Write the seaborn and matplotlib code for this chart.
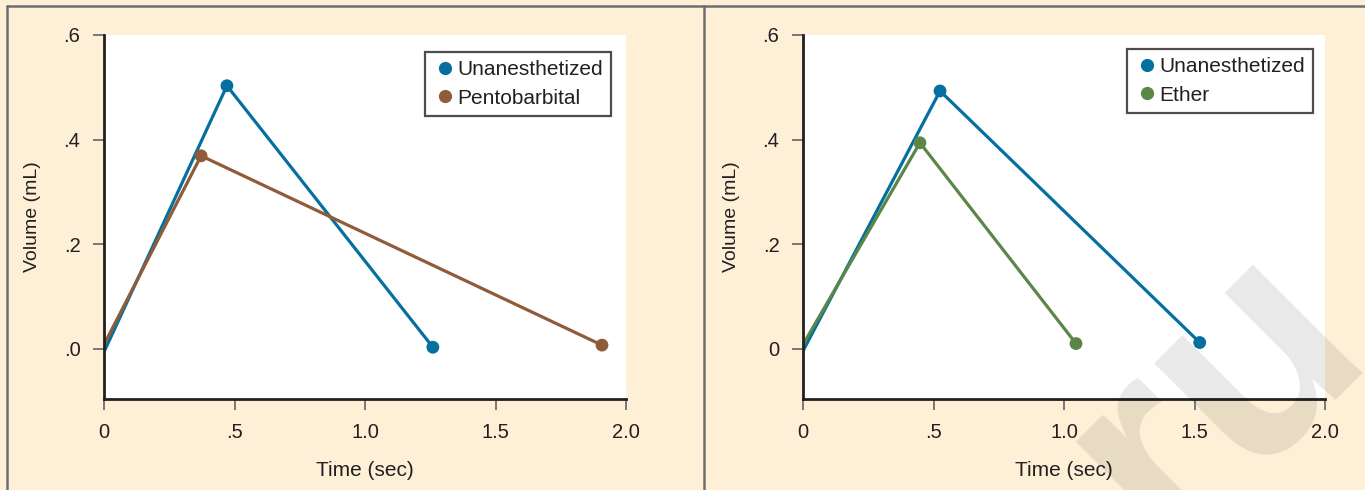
import matplotlib
matplotlib.use("Agg")
import matplotlib.pyplot as plt
import seaborn as sns
import pandas as pd
from matplotlib.lines import Line2D

# data
time_unan_a = [0.0, 0.471, 1.26]
vol_unan_a = [-0.006, 0.503, 0.003]
time_pento = [0.0, 0.372, 1.908]
vol_pento = [0.008, 0.369, 0.007]

time_unan_b = [0.0, 0.525, 1.52]
vol_unan_b = [-0.004, 0.493, 0.012]
time_ether = [0.0, 0.448, 1.046]
vol_ether = [0.008, 0.394, 0.010]

xticks = [0, 0.5, 1.0, 1.5, 2.0]
xtick_labels = ["0", ".5", "1.0", "1.5", "2.0"]
yticks = [0, 0.2, 0.4, 0.6]
ytick_labels_a = [".0", ".2", ".4", ".6"]
ytick_labels_b = ["0", ".2", ".4", ".6"]

BLUE = "#05709f"
BROWN = "#8f5b38"
GREEN = "#5a8748"
CREAM = "#fdf0d7"
DARK = "#231f20"
GREY = "#6d6e71"

sns.set_style("white")
plt.rcParams['font.family'] = ['Liberation Sans', 'DejaVu Sans']

fig = plt.figure(figsize=(13.65, 4.9), dpi=100)
fig.patch.set_facecolor(CREAM)

W, H = 1365, 490
def px_axes(x0, x1, y0, y1):
    return fig.add_axes([x0 / W, 1 - y1 / H, (x1 - x0) / W, (y1 - y0) / H])

ax1 = px_axes(104, 626, 35, 399)
ax2 = px_axes(803, 1325, 35, 399)

def draw(ax, series, ylabels, anchor):
    handles = []
    for name, xs, ys, col in series:
        df = pd.DataFrame({"t": xs, "v": ys})
        sns.lineplot(data=df, x="t", y="v", ax=ax, color=col, lw=2.3,
                     sort=False, estimator=None)
        sns.scatterplot(data=df.iloc[1:], x="t", y="v", ax=ax, color=col,
                        s=85, edgecolor="none", zorder=3)
        handles.append(Line2D([], [], ls="none", marker="o", ms=8.5,
                              color=col, label=name))
    ax.set_xlim(0, 2.0)
    ax.set_ylim(-0.096, 0.6)
    ax.set_xticks(xticks)
    ax.set_xticklabels(xtick_labels)
    ax.set_yticks(yticks)
    ax.set_yticklabels(ylabels)
    ax.set_facecolor("white")
    for s in ["top", "right"]:
        ax.spines[s].set_visible(False)
    for s in ["left", "bottom"]:
        ax.spines[s].set_color(DARK)
        ax.spines[s].set_linewidth(2)
    ax.tick_params(axis="both", which="major", length=8, width=1.3,
                   color=GREY, labelsize=14.5, labelcolor=DARK,
                   direction="out", left=True, bottom=True)
    ax.tick_params(axis="x", pad=9)
    ax.tick_params(axis="y", pad=9)
    ax.set_xlabel("Time (sec)", fontsize=15, color=DARK, labelpad=14)
    ax.set_ylabel("Volume (mL)", fontsize=14, color=DARK, labelpad=16)
    leg = ax.legend(handles=handles, loc="upper right",
                    bbox_to_anchor=anchor, fontsize=15,
                    frameon=True, fancybox=False, handletextpad=0.05,
                    handlelength=1.1, borderpad=0.4, labelspacing=0.45,
                    borderaxespad=0)
    leg.get_frame().set_edgecolor(DARK)
    leg.get_frame().set_linewidth(1.6)
    for t in leg.get_texts():
        t.set_color(DARK)

draw(ax1, [("Unanesthetized", time_unan_a, vol_unan_a, BLUE),
           ("Pentobarbital", time_pento, vol_pento, BROWN)],
     ytick_labels_a, (1 - 15 / 522, 1 - 17 / 364))
draw(ax2, [("Unanesthetized", time_unan_b, vol_unan_b, BLUE),
           ("Ether", time_ether, vol_ether, GREEN)],
     ytick_labels_b, (1 - 12 / 522, 1 - 14 / 364))

# outer frame (top and left edges) and divider
fig.add_artist(Line2D([7 / W, 1], [1 - 6 / H, 1 - 6 / H],
                      transform=fig.transFigure, color=GREY, lw=1.8))
fig.add_artist(Line2D([7 / W, 7 / W], [0, 1 - 6 / H],
                      transform=fig.transFigure, color=GREY, lw=1.8))
fig.add_artist(Line2D([704 / W, 704 / W], [0, 1 - 6 / H],
                      transform=fig.transFigure, color=GREY, lw=1.8))

# watermark
fig.text(1215 / W, 1 - 395 / H, "ru", fontsize=210, fontweight="bold",
         rotation=45, color="black", alpha=0.09, ha="center", va="center")

fig.savefig("out.png", dpi=100, facecolor=fig.get_facecolor())
